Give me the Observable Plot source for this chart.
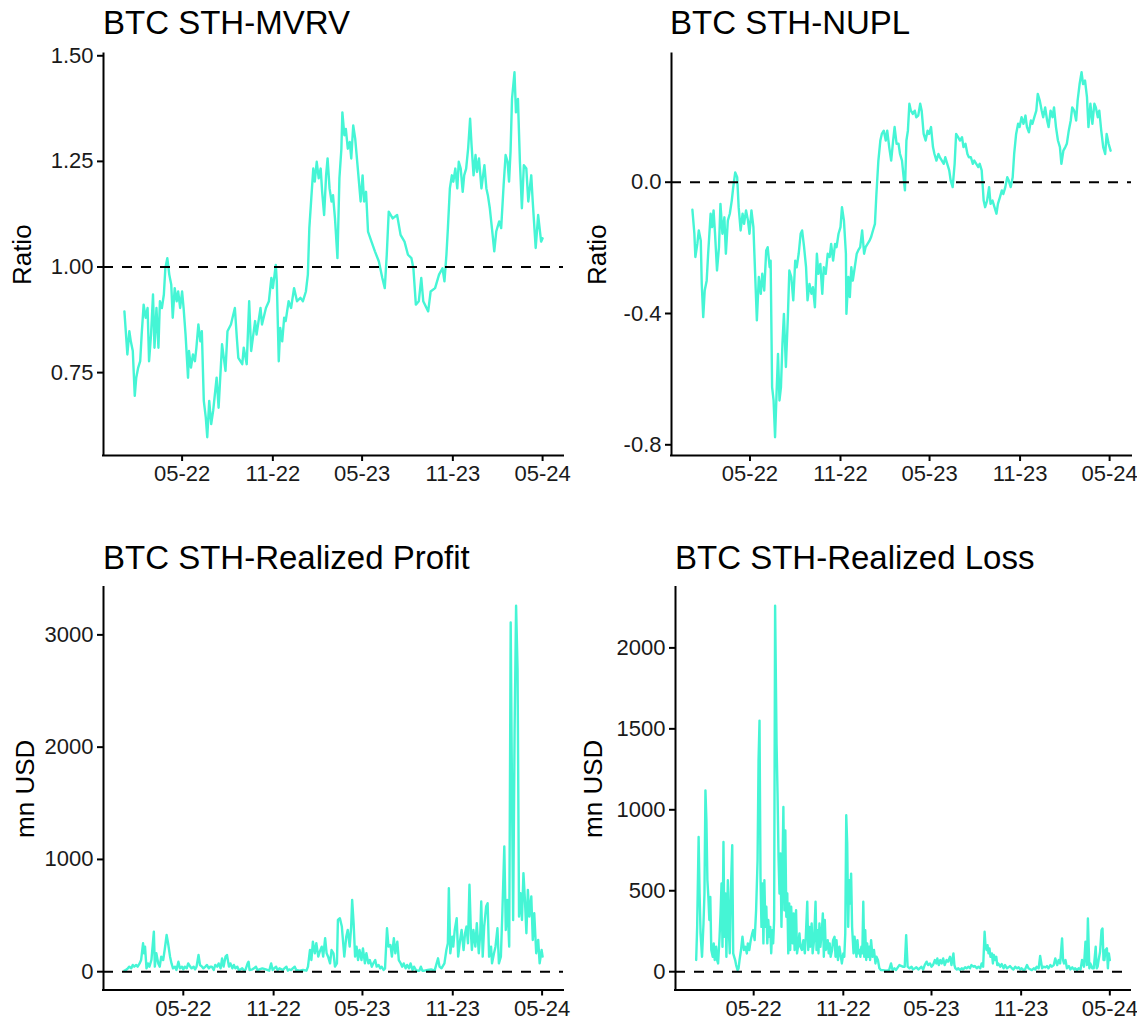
<!DOCTYPE html>
<html>
<head>
<meta charset="utf-8">
<script src="https://cdn.jsdelivr.net/npm/d3@7"></script>
<script src="https://cdn.jsdelivr.net/npm/@observablehq/plot@0.6"></script>
<style>
  html, body { margin: 0; padding: 0; background: #ffffff; }
  #root { position: relative; width: 1137px; height: 1023px; overflow: hidden; background: #ffffff; font-family: "Liberation Sans", Arial, Helvetica, sans-serif; }
  .title { position: absolute; font-size: 33px; line-height: 36px; color: #000; white-space: nowrap; }
  .panel { position: absolute; }
</style>
</head>
<body>
<div id="root"></div>
<script>
// ---------------- DATA (days since 2022-01-01) ----------------
const startDate = "2022-01-01";
const xTickDates = ["2022-05-01", "2022-11-01", "2023-05-01", "2023-11-01", "2024-05-01"];

const mvrvDays = [
  3,9,13,16,20,24,27,31,35,38,
  42,46,50,53,57,61,64,68,72,75,
  79,83,86,90,94,98,101,105,109,112,
  116,120,123,127,132,134,138,142,146,149,
  153,157,160,164,168,171,175,179,183,190,
  194,201,208,212,219,227,231,234,242,245,
  251,256,260,268,271,279,282,290,296,301,
  304,310,312,316,319,323,327,330,336,341,
  347,353,360,365,371,375,378,382,386,389,
  393,397,401,404,408,412,415,419,423,426,
  430,435,439,443,445,449,452,456,460,463,
  467,471,478,482,486,489,493,497,504,511,
  519,526,531,535,539,547,556,563,571,578,
  585,589,594,600,605,609,619,624,633,641,
  648,652,656,659,663,667,670,674,678,681,
  685,689,692,696,700,704,707,711,715,718,
  722,727,733,737,740,744,749,753,757,763,
  767,772,776,780,783,786,789,794,797,801,
  805,809,813,818,822,828,831,837,842,848,
  851];
const mvrvValues = [
  0.895,0.793,0.848,0.824,0.801,0.695,0.738,0.762,0.777,0.840,
  0.911,0.880,0.903,0.777,0.840,0.935,0.809,0.903,0.809,0.919,
  0.903,0.935,0.997,1.021,0.982,0.958,0.880,0.950,0.919,0.942,
  0.903,0.942,0.903,0.840,0.738,0.801,0.762,0.793,0.777,0.809,
  0.864,0.824,0.848,0.683,0.644,0.597,0.683,0.628,0.660,0.738,
  0.667,0.817,0.754,0.848,0.864,0.903,0.832,0.785,0.770,0.809,
  0.770,0.919,0.801,0.872,0.840,0.903,0.864,0.903,0.919,0.974,
  0.950,1.005,0.966,0.777,0.856,0.824,0.880,0.872,0.919,0.903,
  0.950,0.919,0.927,0.919,0.942,0.982,1.092,1.163,1.233,1.202,
  1.249,1.210,1.233,1.178,1.123,1.217,1.257,1.186,1.155,1.170,
  1.115,1.021,1.210,1.280,1.366,1.312,1.327,1.280,1.296,1.257,
  1.335,1.304,1.210,1.155,1.217,1.155,1.178,1.084,1.060,1.037,
  1.013,0.974,0.950,1.029,1.131,1.115,1.123,1.076,1.060,1.029,
  1.021,0.997,0.911,0.919,0.974,0.919,0.895,0.942,0.950,0.982,
  0.997,0.966,1.029,1.092,1.186,1.217,1.202,1.233,1.186,1.249,
  1.233,1.178,1.217,1.233,1.280,1.351,1.288,1.217,1.265,1.225,
  1.257,1.186,1.241,1.186,1.170,1.139,1.084,1.037,1.084,1.108,
  1.092,1.194,1.265,1.249,1.202,1.273,1.398,1.461,1.366,1.398,
  1.249,1.139,1.241,1.233,1.155,1.217,1.155,1.045,1.123,1.060,
  1.068];

const nuplDays = [
  3,7,9,13,16,20,22,25,28,32,
  35,40,43,46,49,53,57,60,64,68,
  71,75,79,83,86,90,94,97,101,105,
  108,112,116,119,123,127,130,134,138,142,
  145,149,153,156,160,162,165,168,171,174,
  177,180,183,186,189,193,197,200,204,208,
  212,215,219,223,226,230,234,237,241,245,
  248,252,256,259,263,267,270,274,278,282,
  285,289,293,296,300,304,307,311,315,316,
  320,323,326,329,333,337,340,344,348,352,
  355,359,363,366,370,374,377,381,385,388,
  392,396,399,403,407,411,414,418,422,425,
  429,433,435,438,441,444,447,451,455,458,
  462,466,469,473,477,481,484,488,492,495,
  499,503,506,510,514,517,521,525,528,532,
  536,539,543,547,551,554,558,562,565,569,
  573,576,580,584,587,591,595,598,602,606,
  609,613,617,621,624,628,632,635,639,643,
  646,650,654,657,661,665,668,672,676,680,
  683,687,691,694,698,702,705,709,713,716,
  720,724,727,731,735,738,742,746,750,753,
  757,761,764,768,772,775,779,783,786,790,
  794,797,801,805,808,812,816,820,823,827,
  830,834,838,842,845,849,853];
const nuplValues = [
  -0.084,-0.157,-0.228,-0.188,-0.147,-0.178,-0.310,-0.411,-0.330,-0.300,
  -0.218,-0.096,-0.137,-0.086,-0.157,-0.269,-0.198,-0.066,-0.157,-0.107,
  -0.218,-0.117,-0.096,-0.056,-0.015,0.030,0.015,-0.076,-0.147,-0.096,
  -0.127,-0.086,-0.117,-0.157,-0.086,-0.137,-0.259,-0.421,-0.289,-0.340,
  -0.279,-0.330,-0.208,-0.198,-0.259,-0.239,-0.624,-0.665,-0.777,-0.645,
  -0.523,-0.665,-0.624,-0.492,-0.401,-0.563,-0.411,-0.269,-0.289,-0.360,
  -0.239,-0.259,-0.218,-0.157,-0.147,-0.198,-0.259,-0.360,-0.310,-0.340,
  -0.320,-0.381,-0.218,-0.279,-0.249,-0.340,-0.259,-0.279,-0.218,-0.228,
  -0.188,-0.239,-0.188,-0.198,-0.157,-0.137,-0.076,-0.117,-0.218,-0.401,
  -0.289,-0.350,-0.259,-0.300,-0.259,-0.218,-0.208,-0.198,-0.147,-0.218,
  -0.198,-0.188,-0.178,-0.168,-0.147,-0.127,-0.036,0.066,0.127,0.147,
  0.157,0.127,0.157,0.107,0.066,0.127,0.168,0.117,0.117,0.086,
  0.066,0.005,-0.025,0.127,0.157,0.239,0.218,0.208,0.218,0.198,
  0.203,0.239,0.218,0.147,0.127,0.157,0.147,0.168,0.107,0.086,
  0.066,0.086,0.076,0.066,0.056,0.076,0.056,0.036,0.005,-0.015,
  0.056,0.147,0.137,0.127,0.137,0.107,0.117,0.086,0.076,0.076,
  0.056,0.066,0.056,0.046,0.056,0.036,-0.056,-0.076,-0.056,-0.015,
  -0.066,-0.056,-0.076,-0.096,-0.066,-0.046,-0.025,-0.036,-0.015,0.015,
  0.005,-0.015,0.015,0.086,0.147,0.178,0.168,0.198,0.178,0.203,
  0.168,0.152,0.188,0.178,0.198,0.218,0.269,0.249,0.218,0.198,
  0.228,0.188,0.168,0.218,0.198,0.228,0.168,0.127,0.107,0.056,
  0.096,0.107,0.117,0.157,0.188,0.228,0.218,0.188,0.249,0.299,
  0.335,0.299,0.310,0.259,0.168,0.239,0.178,0.239,0.228,0.198,
  0.218,0.157,0.107,0.086,0.147,0.117,0.096];

const profitDays = [
  0,3,7,10,14,17,20,24,27,31,
  34,38,40,42,45,48,51,55,60,62,
  65,69,72,75,79,82,86,89,93,96,
  99,103,106,110,113,117,120,123,127,130,
  134,137,141,144,147,151,154,158,161,165,
  168,172,175,178,182,185,189,192,196,199,
  202,206,209,213,216,220,223,226,230,233,
  237,240,244,247,251,253,255,261,264,268,
  271,275,281,288,295,299,302,305,309,312,
  316,323,326,330,333,336,340,343,347,350,
  357,364,371,374,378,381,384,388,391,395,
  398,402,405,409,412,415,419,422,426,429,
  433,435,439,443,448,452,455,459,462,464,
  467,470,473,476,479,483,486,490,493,497,
  500,504,507,511,514,518,521,524,528,531,
  535,538,542,545,549,552,556,559,563,566,
  569,573,576,580,583,587,590,594,597,601,
  604,607,611,618,625,632,639,642,646,652,
  656,659,661,664,668,670,673,677,680,684,
  687,691,694,697,700,703,706,708,711,715,
  718,722,725,727,730,733,737,740,743,747,
  749,753,756,760,763,767,770,774,777,780,
  784,787,790,792,795,798,801,804,807,810,
  813,816,819,822,825,829,832,835,839,843,
  846,850,852];
const profitValues = [
  9,15,30,45,30,60,45,60,45,74,
  104,253,164,223,30,74,45,104,357,45,
  164,74,45,134,104,193,327,253,134,74,
  30,45,15,89,30,45,21,45,30,74,
  45,30,45,21,45,149,60,45,30,45,
  60,30,45,45,15,60,45,74,30,119,
  45,134,149,45,74,30,60,30,45,15,
  21,30,9,21,74,89,15,21,30,45,
  15,21,30,21,9,74,15,30,45,15,
  30,15,30,45,9,21,15,30,45,15,
  9,15,9,45,193,104,268,164,253,134,
  179,223,134,298,164,134,74,193,164,45,
  74,461,476,402,134,312,372,223,402,640,
  431,134,223,104,193,104,208,74,164,74,
  104,45,74,104,45,60,30,45,15,30,
  387,223,238,134,298,164,268,104,74,45,
  74,30,60,30,74,15,45,15,9,9,
  45,9,9,15,21,9,119,45,30,74,
  193,253,744,164,312,223,372,476,134,283,
  372,193,342,402,253,774,342,193,372,223,
  431,164,342,625,134,402,580,610,134,223,
  74,164,223,387,74,134,521,1116,372,640,
  223,3110,1414,461,2158,3259,2693,491,699,461,
  878,640,342,729,491,670,283,521,164,283,
  74,193,134];

const lossDays = [
  2,4,7,9,11,14,17,19,21,23,
  25,27,29,31,33,36,38,40,43,45,
  47,50,52,54,56,58,60,62,64,67,
  69,71,73,76,78,80,82,84,87,89,
  91,94,97,100,103,106,108,111,114,117,
  119,122,125,128,130,132,134,136,138,140,
  142,144,146,148,150,152,154,156,158,160,
  162,164,167,169,171,173,175,177,179,181,
  183,185,187,189,191,193,195,197,200,202,
  204,207,209,211,214,216,219,222,225,227,
  230,232,234,236,239,241,244,247,249,251,
  253,255,257,260,262,264,266,268,270,272,
  274,276,278,281,283,286,288,290,293,296,
  299,301,304,306,308,310,312,314,316,318,
  320,322,325,327,329,331,333,335,337,339,
  341,343,345,347,349,351,353,355,357,359,
  361,364,367,370,372,375,378,381,385,392,
  398,402,405,409,412,419,426,430,433,436,
  440,444,447,451,454,458,461,464,468,471,
  475,478,482,485,488,492,495,497,500,503,
  506,509,512,516,519,523,526,530,532,534,
  537,540,543,547,550,554,557,561,564,567,
  571,574,578,581,585,588,591,594,596,598,
  600,602,604,606,609,611,613,616,618,620,
  622,626,629,633,636,640,643,646,650,653,
  657,660,664,667,670,674,677,681,684,688,
  691,695,698,701,705,708,712,715,719,722,
  725,729,732,736,739,743,746,749,753,755,
  757,760,763,767,770,774,777,780,784,787,
  791,794,798,801,804,806,809,811,815,818,
  822,824,826,828,831,834,836,838,840,842,
  845,847,849,851];
const lossValues = [
  72,277,832,483,236,92,298,483,1120,935,
  565,462,319,462,134,92,175,72,154,72,
  51,216,360,545,154,801,216,483,92,565,
  257,113,483,781,113,92,72,41,10,21,
  72,134,216,134,154,113,175,134,195,236,
  257,195,380,688,1305,1551,586,277,545,175,
  565,277,401,175,319,216,277,113,257,175,
  319,2260,1408,1099,709,483,730,277,606,1017,
  380,873,339,483,113,421,134,401,175,360,
  134,380,113,154,236,154,134,195,113,216,
  432,134,277,154,298,113,195,432,134,257,
  113,298,154,257,360,92,319,134,154,195,
  113,175,92,134,195,216,92,195,72,154,
  92,51,113,92,236,966,791,277,565,421,
  606,277,113,216,154,92,195,113,134,92,
  154,113,432,92,257,72,175,92,154,72,
  195,92,134,51,92,72,21,10,10,6,
  10,51,10,21,10,41,31,31,226,31,
  21,31,14,21,27,14,21,31,14,41,
  62,41,51,31,41,72,51,82,41,72,
  51,82,41,72,62,92,41,113,41,21,
  14,21,10,21,14,27,21,31,21,41,
  31,35,21,31,21,51,31,247,154,134,
  164,113,144,92,113,51,103,72,92,41,
  51,31,47,21,41,21,27,35,21,14,
  31,21,27,14,21,10,14,41,21,14,
  10,21,14,31,21,97,21,31,27,35,
  21,41,31,41,82,41,72,51,206,72,
  51,72,21,35,14,27,14,21,10,21,
  14,72,31,185,41,329,21,51,21,21,
  154,21,31,72,123,257,267,72,72,134,
  144,21,113,72];

const panelTitles = ["BTC STH-MVRV", "BTC STH-NUPL", "BTC STH-Realized Profit", "BTC STH-Realized Loss"];
const yLabels = ["Ratio", "Ratio", "mn USD", "mn USD"];
const refLines = [1, 0, 0, 0];
const yTickValues = [[0.75, 1.00, 1.25, 1.50], [-0.8, -0.4, 0.0], [0, 1000, 2000, 3000], [0, 500, 1000, 1500, 2000]];
const yTickDigits = [2, 1, 0, 0];

// ---------------- RENDER ----------------
const lineColor = "#45F5D5";
const FONT = '"Liberation Sans", Arial, Helvetica, sans-serif';
const base = new Date(startDate + "T00:00:00Z");
const toDate = d => new Date(base.getTime() + d * 864e5);
const root = document.getElementById("root");

function fmt(digits) {
  return v => (Math.abs(v) < 1e-9 ? 0 : v).toFixed(digits);
}

function makePanel(i, days, values, layout) {
  const n = Math.min(days.length, values.length);
  const data = [];
  for (let k = 0; k < n; k++) data.push({date: toDate(days[k]), value: values[k]});
  const ref = refLines[i];
  const [ymin, ymax] = d3.extent([...values.slice(0, n), ref]);
  const ypad = (ymax - ymin) * 0.05;
  const [dmin, dmax] = d3.extent(days.slice(0, n));
  const xpad = (dmax - dmin) * 0.05;
  const xDomain = [toDate(dmin - xpad), toDate(dmax + xpad)];
  const yDomain = [ymin - ypad, ymax + ypad];

  const svg = Plot.plot({
    width: layout.w, height: layout.h,
    marginLeft: layout.ml, marginRight: layout.mr, marginTop: layout.mt, marginBottom: layout.mb,
    style: {fontFamily: FONT, fontSize: "22px", color: "#1a1a1a", background: "transparent", overflow: "visible"},
    x: {type: "utc", domain: xDomain},
    y: {domain: yDomain},
    marks: [
      Plot.lineY(data, {x: "date", y: "value", stroke: lineColor, strokeWidth: 2.4, curve: "linear"}),
      Plot.ruleY([ref], {stroke: "#000", strokeWidth: 2, strokeDasharray: "10,9"}),
      Plot.axisX(xTickDates.map(s => new Date(s + "T00:00:00Z")), {
        tickFormat: d3.utcFormat("%m-%y"), tickSize: 6, tickPadding: 4, stroke: "#000", strokeWidth: 2,
        fill: "#1a1a1a", label: null, fontSize: 22
      }),
      Plot.axisY(yTickValues[i], {
        tickFormat: fmt(yTickDigits[i]), tickSize: 6, tickPadding: 4, stroke: "#000", strokeWidth: 2,
        fill: "#1a1a1a", label: null, fontSize: 22
      }),
      Plot.ruleX([xDomain[0]], {stroke: "#000", strokeWidth: 2, strokeLinecap: "square"}),
      Plot.ruleY([yDomain[0]], {stroke: "#000", strokeWidth: 2, strokeLinecap: "square"}),
      Plot.text([yLabels[i]], {frameAnchor: "left", dx: layout.labelDx, rotate: -90, textAnchor: "middle", lineAnchor: "middle", fontSize: 26, fill: "#000"})
    ]
  });
  const wrap = document.createElement("div");
  wrap.className = "panel";
  wrap.style.left = layout.left + "px";
  wrap.style.top = layout.top + "px";
  wrap.appendChild(svg);
  root.appendChild(wrap);

  const t = document.createElement("div");
  t.className = "title";
  t.textContent = panelTitles[i];
  t.style.left = layout.titleX + "px";
  t.style.top = layout.titleY + "px";
  root.appendChild(t);
}

const layouts = [
  {left: 0,   top: 40,  w: 568, h: 480, ml: 103, mr: 5,  mt: 13.5, mb: 65,   labelDx: -81, titleX: 103, titleY: 5},
  {left: 568, top: 40,  w: 569, h: 480, ml: 103, mr: 6,  mt: 13.5, mb: 65,   labelDx: -74, titleX: 670, titleY: 5},
  {left: 0,   top: 570, w: 568, h: 453, ml: 103, mr: 5,  mt: 17,   mb: 33.5, labelDx: -78, titleX: 103, titleY: 540},
  {left: 568, top: 570, w: 569, h: 453, ml: 107, mr: 7,  mt: 17,   mb: 33.5, labelDx: -82, titleX: 675, titleY: 540}
];

makePanel(0, mvrvDays, mvrvValues, layouts[0]);
makePanel(1, nuplDays, nuplValues, layouts[1]);
makePanel(2, profitDays, profitValues, layouts[2]);
makePanel(3, lossDays, lossValues, layouts[3]);
</script>
</body>
</html>
